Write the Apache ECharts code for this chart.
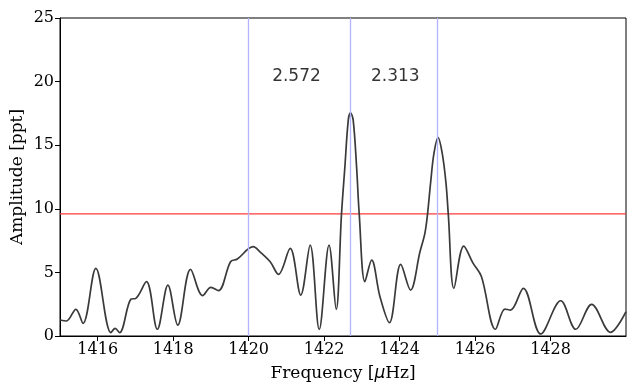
<!DOCTYPE html>
<html>
<head>
<meta charset="utf-8">
<script src="https://cdn.jsdelivr.net/npm/echarts@6/dist/echarts.min.js"></script>
<style>
  html, body { margin: 0; padding: 0; background: #fff; }
  #chart { width: 627px; height: 383px; }
</style>
</head>
<body>
<div id="chart"></div>
<script>
// Amplitude spectrum samples: frequency (µHz) and amplitude (ppt)
const freq = [
  1415.00, 1415.17, 1415.42, 1415.61, 1415.95, 1416.35, 1416.46, 1416.58, 1416.88, 1417.01,
  1417.29, 1417.58, 1417.86, 1418.12, 1418.46, 1418.78, 1419.00, 1419.20, 1419.52, 1419.70,
  1420.12, 1420.30, 1420.57, 1420.79, 1421.10, 1421.38, 1421.63, 1421.87, 1422.13, 1422.32,
  1422.46, 1422.55, 1422.64, 1422.70, 1422.77, 1422.86, 1422.93, 1423.08, 1423.26, 1423.48,
  1423.73, 1424.03, 1424.29, 1424.54, 1424.67, 1424.74, 1424.82, 1424.91, 1425.02, 1425.13,
  1425.23, 1425.29, 1425.44, 1425.70, 1425.95, 1426.17, 1426.54, 1426.79, 1426.94, 1427.28,
  1427.74, 1428.27, 1428.67, 1429.09, 1429.59, 1430.00
];
const amp = [
  1.26, 1.18, 2.10, 1.00, 5.32, 0.26, 0.60, 0.26, 2.90, 2.96,
  4.27, 0.53, 4.00, 0.86, 5.24, 3.17, 3.82, 3.56, 5.84, 6.05,
  7.02, 6.62, 5.84, 4.85, 6.89, 3.22, 7.15, 0.52, 7.15, 2.10,
  9.58, 13.30, 16.97, 17.54, 16.97, 13.30, 9.58, 4.27, 5.97, 3.09,
  1.05, 5.63, 3.61, 6.62, 8.07, 9.58, 12.00, 14.35, 15.60, 14.35,
  12.00, 9.58, 3.75, 7.07, 5.71, 4.66, 0.53, 2.12, 2.04, 3.75,
  0.16, 2.77, 0.53, 2.49, 0.29, 1.91
];

// Marked frequencies, significance threshold and spacing annotations
const markedFreqs = [1420.0, 1422.685, 1425.008];
const thresholdFreq = [1415, 1430];
const thresholdAmp = [9.6, 9.6];
const spacingText = ['2.572', '2.313'];
const spacingPos = [[1421.28, 20.35], [1423.90, 20.35]];

const xTicks = [1416, 1418, 1420, 1422, 1424, 1426, 1428];

const serif = 'DejaVu Serif';
const sans = 'DejaVu Sans';

const chart = echarts.init(document.getElementById('chart'), null, { renderer: 'canvas' });

chart.setOption({
  animation: false,
  backgroundColor: '#ffffff',
  grid: {
    left: 60, right: 1, top: 18, bottom: 47,
    containLabel: false, outerBoundsMode: 'none',
    show: true, borderColor: '#000', borderWidth: 1, backgroundColor: 'transparent'
  },
  xAxis: {
    type: 'value', min: 1415, max: 1430,
    name: '{t|Frequency [}{mu|µ}{t|Hz]}',
    nameLocation: 'middle', nameGap: 29,
    nameTextStyle: {
      rich: {
        t: { fontFamily: serif, fontSize: 17, color: '#000' },
        mu: { fontFamily: sans, fontStyle: 'italic', fontSize: 17, color: '#000' }
      }
    },
    axisLine: { show: true, onZero: false, lineStyle: { color: '#000', width: 1 } },
    axisTick: { show: true, length: 5, customValues: xTicks, lineStyle: { color: '#000' } },
    axisLabel: {
      customValues: xTicks, formatter: v => String(v),
      fontFamily: serif, fontSize: 16, color: '#000', margin: 6
    },
    splitLine: { show: false }
  },
  yAxis: {
    type: 'value', min: 0, max: 25, interval: 5,
    name: 'Amplitude [ppt]',
    nameLocation: 'middle', nameGap: 42, nameMoveOverlap: false,
    nameTextStyle: { fontFamily: serif, fontSize: 17, color: '#000', verticalAlign: 'middle' },
    axisLine: { show: true, lineStyle: { color: '#000', width: 1 } },
    axisTick: { show: true, length: 5, lineStyle: { color: '#000' } },
    axisLabel: { fontFamily: serif, fontSize: 16, color: '#000', margin: 6 },
    splitLine: { show: false }
  },
  series: [
    {
      type: 'line',
      data: freq.map((f, i) => [f, amp[i]]),
      smooth: 0.35,
      showSymbol: false,
      lineStyle: { color: '#3a3a3a', width: 1.7 },
      z: 3,
      markLine: {
        silent: true,
        symbol: 'none',
        label: { show: false },
        lineStyle: { color: '#b3b3ff', width: 1.3, type: 'solid' },
        data: markedFreqs.map(f => ({ xAxis: f }))
      }
    },
    {
      type: 'line',
      data: thresholdFreq.map((f, i) => [f, thresholdAmp[i]]),
      showSymbol: false,
      color: '#ff3a3a',
      lineStyle: { color: '#ff3a3a', width: 1.2 },
      z: 2
    },
    {
      type: 'scatter',
      symbol: 'circle',
      symbolSize: 1,
      itemStyle: { color: 'rgba(255,255,255,0)' },
      data: spacingPos.map((p, i) => ({ value: p, name: spacingText[i] })),
      label: {
        show: true, position: [0, 0], align: 'center', verticalAlign: 'middle',
        formatter: p => p.name,
        fontFamily: sans, fontSize: 17, color: '#000', textBorderWidth: 0
      },
      z: 4
    }
  ]
});
</script>
</body>
</html>
